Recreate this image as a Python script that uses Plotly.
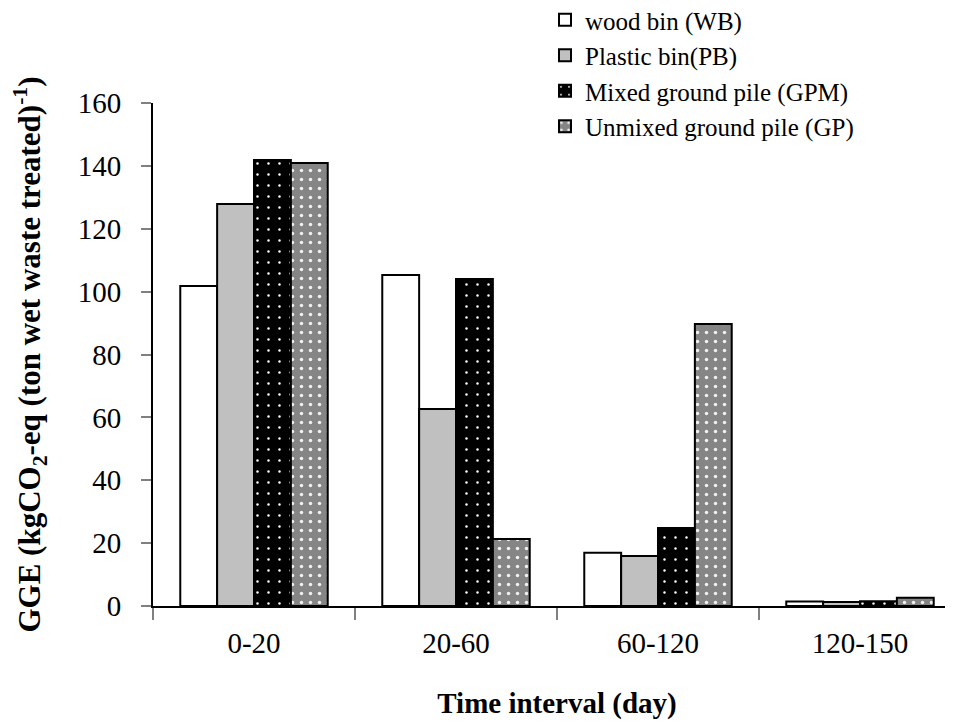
import plotly.graph_objects as go

categories = ["0-20", "20-60", "60-120", "120-150"]
series_names = ["wood bin (WB)", "Plastic bin(PB)", "Mixed ground pile (GPM)", "Unmixed ground pile (GP)"]
wb = [101.8, 105.3, 16.9, 1.4]
pb = [127.9, 62.7, 15.9, 1.3]
gpm = [141.9, 104.0, 24.8, 1.5]
gp = [140.9, 21.3, 89.7, 2.6]
y_ticks = [0, 20, 40, 60, 80, 100, 120, 140, 160]

FONT = "Liberation Serif, Times New Roman, serif"

styles = [
    dict(color="white", pattern=None),
    dict(color="#c0c0c0", pattern=None),
    dict(color="black", pattern=dict(shape=".", fgcolor="white", bgcolor="black", size=11, solidity=0.04, fillmode="replace")),
    dict(color="#858585", pattern=dict(shape=".", fgcolor="#f0f0f0", bgcolor="#858585", size=9, solidity=0.12, fillmode="replace")),
]

fig = go.Figure()
for name, vals, st in zip(series_names, [wb, pb, gpm, gp], styles):
    marker = dict(color=st["color"], line=dict(color="black", width=2))
    if st["pattern"]:
        marker["pattern"] = st["pattern"]
    fig.add_trace(go.Bar(x=categories, y=vals, name=name, marker=marker))

# page body has an 8px margin, so figure coords = screen coords - 8
L, T, B = 145, 95, 127
fig.update_layout(
    width=953, height=725,
    margin=dict(l=L, r=0, t=T, b=B, autoexpand=False),
    paper_bgcolor="white", plot_bgcolor="white",
    barmode="group", bargap=0.27, bargroupgap=0,
    font=dict(family=FONT, size=29, color="black"),
    legend=dict(
        x=(537 - L) / 808, y=(598 + 11) / 503, xanchor="left", yanchor="top",
        font=dict(family=FONT, size=25, color="black"),
        bgcolor="rgba(0,0,0,0)", tracegroupgap=0,
        itemwidth=30,
    ),
    xaxis=dict(
        type="category", range=[-0.5, 3.5],
        tickson="boundaries", ticks="outside", ticklen=12, tickcolor="#808080", tickwidth=2,
        showline=True, linecolor="black", linewidth=2,
        showgrid=False, zeroline=False,
        tickfont=dict(family=FONT, size=29), ticklabelstandoff=10,
        title=dict(text="<b>Time interval (day)</b>", font=dict(family=FONT, size=29), standoff=35),
    ),
    yaxis=dict(
        range=[0, 160], tickvals=y_ticks,
        ticks="outside", ticklen=10, tickcolor="#808080", tickwidth=2,
        showline=True, linecolor="black", linewidth=2,
        showgrid=False, zeroline=False,
        tickfont=dict(family=FONT, size=29), ticklabelstandoff=14,
        title=dict(text="<b>GGE (kgCO<sub>2</sub>-eq (ton wet waste treated)<sup>-1</sup>)</b>",
                   font=dict(family=FONT, size=31), standoff=34),
    ),
)

fig.write_html("out.html")
